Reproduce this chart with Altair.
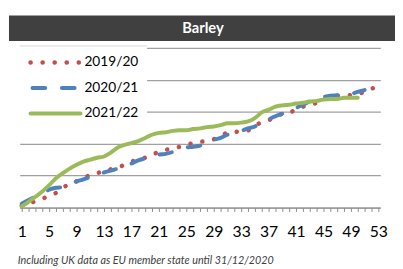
import altair as alt
import pandas as pd

# ---- data ----
seasons = ["2019/20", "2020/21", "2021/22"]
colors = ["#C0504D", "#4F81BD", "#9BBB59"]

v_2019 = [3, 6, 10, 14, 18, 23, 31, 37, 41, 46, 51, 54, 57, 60, 63, 67, 72, 75, 78, 83,
          87, 90, 94, 95, 98, 101, 103, 104, 107, 112, 117, 118, 120, 121, 129, 133, 137,
          141, 147, 149, 153, 158, 161, 164, 169, 173, 175, 175, 176, 178, 181, 186, 190]
v_2020 = [6, 12, 17, 23, 28, 31, 32, 37, 41, 44, 48, 51, 55, 58, 61, 64, 69, 74, 77, 80,
          83, 84, 87, 91, 94, 95, 97, 101, 106, 109, 114, 117, 120, 124, 127, 133, 138,
          143, 147, 152, 156, 161, 166, 170, 173, 175, 176, 176, 178, 181, 184]
v_2021 = [2, 9, 17, 25, 35, 46, 54, 61, 67, 72, 75, 78, 80, 86, 94, 98, 101, 104, 109, 114,
          117, 118, 120, 121, 121, 123, 124, 126, 127, 129, 132, 132, 133, 135, 140, 149, 153,
          158, 160, 161, 163, 164, 166, 167, 169, 170, 170, 172, 172, 172]
series_values = [v_2019, v_2020, v_2021]

week_ticks = list(range(1, 54))
grid_values = [0, 50, 100, 150, 200, 250]
title_text = "Barley"
footnote = "Including UK data as EU member state until 31/12/2020"

rows = []
for s, vals in zip(seasons, series_values):
    for i, v in enumerate(vals):
        rows.append({"week": i + 1, "value": v, "season": s})
df = pd.DataFrame(rows)

W, H = 368, 163
FONT = "Lato"
one = alt.Data(values=[{}])

x_enc = alt.X("week:Q",
              scale=alt.Scale(domain=[1 - 2 / 7, 53 + 2 / 7], nice=False, zero=False),
              axis=alt.Axis(values=week_ticks,
                            labelExpr="(datum.value - 1) % 4 == 0 ? datum.value : ''",
                            grid=False, title=None, domainColor="#8c8c8c", tickColor="#8c8c8c",
                            tickSize=4, labelFont=FONT, labelFontSize=16, labelColor="#000000",
                            labelBaseline="alphabetic", labelPadding=26, labelOverlap=False,
                            labelFlush=False))
y_enc = alt.Y("value:Q", scale=alt.Scale(domain=[0, 250], nice=False),
              axis=alt.Axis(values=grid_values, grid=True, gridColor="#a0a0a0", gridWidth=1.3,
                            domain=False, ticks=False, labels=False, title=None))

base = alt.Chart(df)

dash_styles = [[0.1, 12.2], [13, 17], None]
widths = [4.6, 4, 4]
layers = []

# title bar
layers.append(alt.Chart(one).mark_rect(color="#404040").encode(
    x=alt.value(-11), x2=alt.value(400), y=alt.value(-33), y2=alt.value(-7)))
layers.append(alt.Chart(one).mark_text(text=title_text, color="white", font=FONT, fontSize=15,
                                       fontWeight="bold", baseline="middle", align="center").encode(
    x=alt.value(187), y=alt.value(-20)))

for s, col, dash, sw in zip(seasons, colors, dash_styles, widths):
    kw = dict(color=col, strokeWidth=sw, strokeCap="round", strokeJoin="round", interpolate="monotone")
    if dash:
        kw["strokeDash"] = dash
    layers.append(base.transform_filter(alt.datum.season == s).mark_line(**kw).encode(
        x=x_enc, y=y_enc))

# legend box
layers.append(alt.Chart(one).mark_rect(color="white").encode(
    x=alt.value(0), x2=alt.value(130), y=alt.value(-1), y2=alt.value(80)))
layers.append(alt.Chart(one).mark_rule(color="#d9d9d9", strokeWidth=1).encode(
    x=alt.value(0), x2=alt.value(130), y=alt.value(-2)))
leg_y = [15, 41, 67]
leg_x = [(11, 61), (13, 56), (11, 62)]
for s, col, dash, sw, yy, (xa, xb) in zip(seasons, colors, dash_styles, widths, leg_y, leg_x):
    kw = dict(color=col, strokeWidth=sw, strokeCap="round")
    if dash:
        kw["strokeDash"] = dash
    layers.append(alt.Chart(one).mark_rule(**kw).encode(
        x=alt.value(xa), x2=alt.value(xb), y=alt.value(yy)))
    layers.append(alt.Chart(one).mark_text(text=s, font=FONT, fontSize=14, color="#000000",
                                           align="left", baseline="middle").encode(
        x=alt.value(66), y=alt.value(yy)))

# footnote
layers.append(alt.Chart(one).mark_text(text=footnote, font=FONT, fontSize=11, fontStyle="italic",
                                       color="#404040", align="left", baseline="alphabetic").encode(
    x=alt.value(-2), y=alt.value(221)))

chart = alt.layer(*layers).properties(
    width=W, height=H,
    autosize=alt.AutoSizeParams(type="none"),
    padding={"left": 12, "top": 38, "right": 15, "bottom": 60},
    background="white",
).configure_view(stroke=None)

chart.save("out.html", embed_options={"renderer": "svg", "actions": False})
